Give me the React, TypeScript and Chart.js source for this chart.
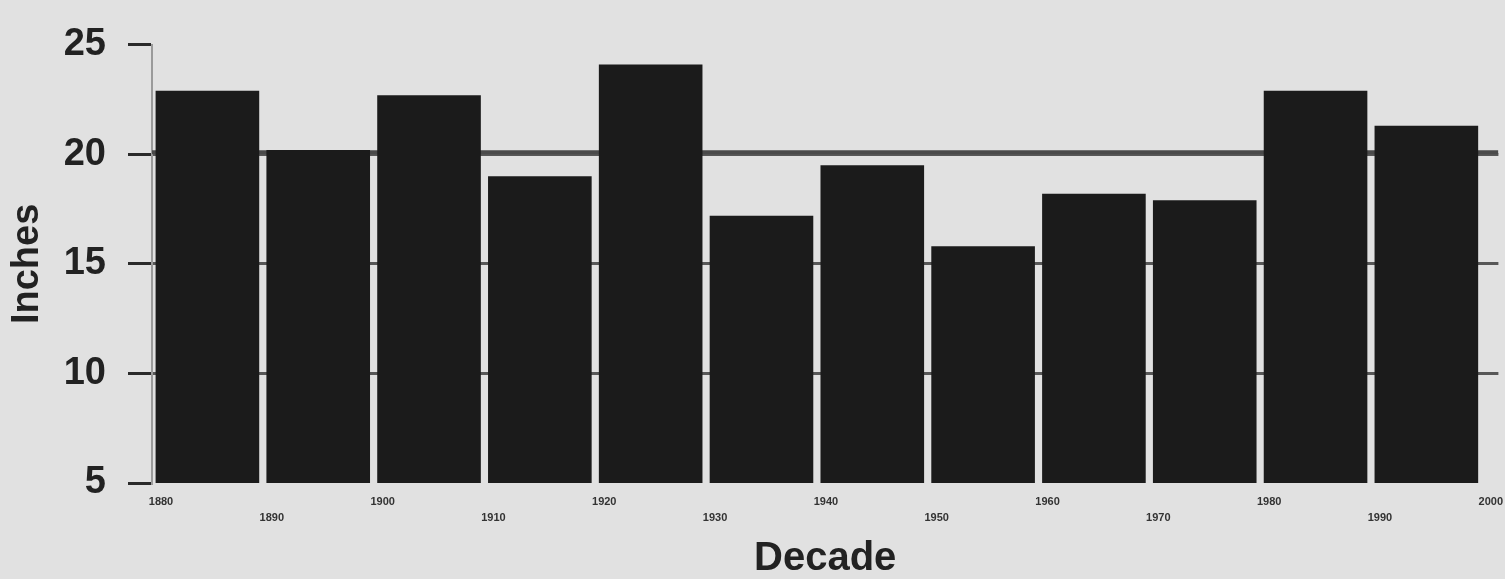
import React, { useEffect, useRef } from 'react';
import { Chart, registerables } from 'chart.js';

Chart.register(...registerables);

const decades = ['1880', '1890', '1900', '1910', '1920', '1930', '1940', '1950', '1960', '1970', '1980', '1990'];
const tickLabels = ['1880', '1890', '1900', '1910', '1920', '1930', '1940', '1950', '1960', '1970', '1980', '1990', '2000'];
const rainfall = [22.9, 20.2, 22.7, 19.0, 24.1, 17.2, 19.5, 15.8, 18.2, 17.9, 22.9, 21.3];
const averageRainfall = 20.1;
const gridValues = [10, 15, 20];

const FONT = '"Liberation Sans", Arial, Helvetica, sans-serif';

export default function App() {
  const canvasRef = useRef<HTMLCanvasElement | null>(null);

  useEffect(() => {
    const canvas = canvasRef.current;
    if (!canvas) return;
    const xMax = 12.15;
    const chart = new Chart(canvas, {
      type: 'bar',
      data: {
        datasets: [
          {
            type: 'bar',
            label: 'Inches',
            data: decades.map((d, i) => ({ x: i + 0.5, y: rainfall[i] })),
            backgroundColor: '#1b1b1b',
            borderWidth: 0,
            categoryPercentage: 1,
            barPercentage: 0.935,
            order: 1,
          } as any,
          {
            type: 'line',
            label: 'Average',
            data: [
              { x: 0, y: averageRainfall },
              { x: xMax, y: averageRainfall },
            ],
            borderColor: '#4a4a4a',
            borderWidth: 4,
            pointRadius: 0,
            order: 2,
          } as any,
        ],
      },
      options: {
        animation: false,
        responsive: true,
        maintainAspectRatio: false,
        layout: { padding: { top: 36, right: 0, left: 0, bottom: 0 } },
        plugins: {
          legend: { display: false },
          tooltip: { enabled: false },
        },
        scales: {
          x: {
            type: 'linear',
            offset: false,
            min: 0,
            max: xMax,
            grid: { display: false, drawTicks: false, offset: false },
            border: { display: false },
            afterFit: (scale: any) => {
              scale.height = 96;
            },
            ticks: {
              stepSize: 1,
              includeBounds: false,
              autoSkip: false,
              maxRotation: 0,
              minRotation: 0,
              padding: 11,
              labelOffset: 9,
              color: '#333',
              font: { family: FONT, size: 11, weight: 'bold', lineHeight: 16 / 11 },
              callback: (value: any) => {
                const idx = Math.round(Number(value));
                const lbl = tickLabels[idx];
                if (lbl === undefined) return '';
                return idx % 2 === 0 ? lbl : ['', lbl];
              },
            },
            title: {
              display: true,
              text: 'Decade',
              color: '#222',
              font: { family: FONT, size: 40, weight: 'bold', lineHeight: 1 },
              padding: { top: 0, bottom: 0 },
            },
          },
          y: {
            min: 5,
            max: 25,
            afterFit: (scale: any) => {
              scale.width = 152;
            },
            ticks: {
              stepSize: 5,
              padding: 22,
              color: '#222',
              font: { family: FONT, size: 38, weight: 'bold' },
            },
            grid: {
              color: (ctx: any) => (ctx.tick && gridValues.includes(ctx.tick.value) ? '#575757' : 'rgba(0,0,0,0)'),
              lineWidth: 3,
              tickColor: '#2a2a2a',
              tickLength: 24,
              tickWidth: 3,
            },
            border: { display: true, color: '#9a9a9a', width: 2 },
            title: {
              display: true,
              text: 'Inches',
              color: '#222',
              font: { family: FONT, size: 38, weight: 'bold', lineHeight: 1 },
              padding: { top: 9, bottom: 0 },
            },
          },
        },
      } as any,
    });
    return () => chart.destroy();
  }, []);

  return (
    <div
      style={{
        position: 'fixed',
        left: 0,
        top: 0,
        width: 1505,
        height: 579,
        background: '#e1e1e1',
      }}
    >
      <canvas ref={canvasRef} />
    </div>
  );
}
